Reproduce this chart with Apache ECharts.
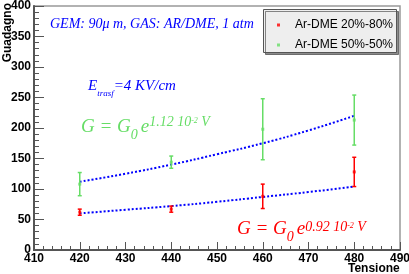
<!DOCTYPE html>
<html><head><meta charset="utf-8">
<script src="https://cdn.jsdelivr.net/npm/echarts@6/dist/echarts.min.js"></script>
<style>html,body{margin:0;padding:0;background:#fff}#c{width:409px;height:274px}</style>
</head><body><div id="c"></div>
<script>
// ---- data ----
var voltages = [420, 440, 460, 480];
var gainRed = [62, 67, 88, 128];
var errRed = [5, 5, 20, 24];
var gainGreen = [108, 144, 198, 213];
var errGreen = [19, 10, 50, 41];
var fitV = [420, 430, 440, 450, 460, 470, 480];
var fitRed = [60, 66, 72, 79, 87, 95, 104];
var fitGreen = [112, 125, 140, 157, 175, 196, 220];
var seriesNames = ['Ar-DME 20%-80%', 'Ar-DME 50%-50%'];
var xTicks = [410, 420, 430, 440, 450, 460, 470, 480, 490];
var yTicks = [0, 50, 100, 150, 200, 250, 300, 350, 400];

var RED = '#ff0000', GREEN = '#66dd66', BLUE = '#0000ff';
var SANS = '"Liberation Sans",Arial,sans-serif';
var chart = echarts.init(document.getElementById('c'), null, {renderer: 'canvas'});

function pts(xs, ys) { return xs.map(function (x, i) { return [x, ys[i]]; }); }
function errs(xs, ys, es) { return xs.map(function (x, i) { return [x, ys[i] - es[i], ys[i] + es[i]]; }); }

function errRender(color) {
  return function (params, api) {
    var x = api.value(0), lo = api.value(1), hi = api.value(2);
    var a = api.coord([x, hi]), b = api.coord([x, lo]);
    var st = {stroke: color, lineWidth: 1.5};
    return {type: 'group', children: [
      {type: 'line', shape: {x1: a[0], y1: a[1], x2: b[0], y2: b[1]}, style: st},
      {type: 'line', shape: {x1: a[0] - 2, y1: a[1], x2: a[0] + 2, y2: a[1]}, style: st},
      {type: 'line', shape: {x1: b[0] - 2, y1: b[1], x2: b[0] + 2, y2: b[1]}, style: st}
    ]};
  };
}

// text measuring for formula layout
var cv = document.createElement('canvas').getContext('2d');
var SERIF = '"Liberation Serif","Times New Roman",serif';
function pieces(list, x0, baseline, color) {
  var out = [], x = x0;
  list.forEach(function (p) {
    var font = 'italic ' + p.s + 'px ' + SERIF;
    cv.font = font;
    var w = cv.measureText(p.t).width;
    out.push({type: 'text', left: x, top: baseline + (p.dy || 0) - p.s * 0.9, z: 10,
      style: {text: p.t, fill: color, font: font}});
    x += w + (p.gap || 0);
  });
  return out;
}

var graphics = [];
// legend box
graphics.push({type: 'rect', left: 263, top: 9, z: 1, shape: {width: 133, height: 43},
  style: {fill: '#eeeeee', stroke: '#555', lineWidth: 1, shadowColor: 'rgba(0,0,0,0.45)', shadowOffsetX: 2, shadowOffsetY: 2, shadowBlur: 0}});
// GEM annotation
graphics = graphics.concat(pieces([{t: 'GEM: 90\u03bc m, GAS: AR/DME, 1 atm', s: 14}], 50, 30, BLUE));
// E_trasf
graphics = graphics.concat(pieces([{t: 'E', s: 15}, {t: 'trasf', s: 9, dy: 5}, {t: '=4 KV/cm', s: 15}], 88, 92, BLUE));
// green formula
graphics = graphics.concat(pieces([{t: 'G = G', s: 19}, {t: '0', s: 14, dy: 6, gap: 3}, {t: 'e', s: 19},
  {t: '1.12 10', s: 14, dy: -7}, {t: '-2', s: 8, dy: -11}, {t: ' V', s: 14, dy: -7}], 81, 135, GREEN));
// red formula
graphics = graphics.concat(pieces([{t: 'G = G', s: 19}, {t: '0', s: 14, dy: 6, gap: 3}, {t: 'e', s: 19},
  {t: '0.92 10', s: 14, dy: -4}, {t: '-2', s: 8, dy: -8}, {t: ' V', s: 14, dy: -4}], 237, 237, RED));
// x axis title
graphics.push({type: 'text', left: 348, top: 263, z: 10,
  style: {text: 'Tensione', fill: '#000', font: 'bold 12px ' + SANS}});
// y axis title (vertical, reading upward)
graphics.push({type: 'text', left: 2, top: 3, rotation: Math.PI / 2, z: 10,
  style: {text: 'Guadagno', fill: '#000', font: 'bold 12px ' + SANS}});

var labelFont = {color: '#000', fontFamily: SANS, fontWeight: 'bold', fontSize: 12};

chart.setOption({
  animation: false,
  grid: {left: 34, right: 9, top: 6, bottom: 24, outerBoundsMode: 'none', containLabel: false,
    show: true, borderColor: '#999', borderWidth: 1.5, backgroundColor: 'transparent'},
  legend: {
    data: seriesNames, orient: 'vertical', left: 272, top: 13, z: 5,
    itemWidth: 3, itemHeight: 3, itemGap: 6, icon: 'rect',
    textStyle: {color: '#000', fontFamily: SANS, fontSize: 12, lineHeight: 14, padding: [0, 0, 0, 10]}
  },
  xAxis: {
    type: 'value', min: xTicks[0], max: xTicks[xTicks.length - 1], interval: 10,
    axisLine: {onZero: false, lineStyle: {color: '#555', width: 2}},
    axisTick: {inside: true, length: 8, lineStyle: {color: '#555', width: 1}},
    minorTick: {show: true, splitNumber: 5, length: 4, lineStyle: {color: '#555', width: 1}},
    splitLine: {show: false},
    axisLabel: Object.assign({margin: 3}, labelFont)
  },
  yAxis: {
    type: 'value', min: yTicks[0], max: yTicks[yTicks.length - 1], interval: 50,
    axisLine: {show: true, lineStyle: {color: '#555', width: 2}},
    axisTick: {show: true, inside: true, length: 10, lineStyle: {color: '#555', width: 1}},
    minorTick: {show: true, splitNumber: 5, length: 5, lineStyle: {color: '#555', width: 1}},
    splitLine: {show: false},
    axisLabel: Object.assign({margin: 3}, labelFont)
  },
  graphic: graphics,
  series: [
    {type: 'line', data: pts(fitV, fitGreen), smooth: true, symbol: 'none', silent: true,
      lineStyle: {color: BLUE, width: 2, type: [2, 2]}, z: 3},
    {type: 'line', data: pts(fitV, fitRed), smooth: true, symbol: 'none', silent: true,
      lineStyle: {color: BLUE, width: 2, type: [2, 2]}, z: 3},
    {type: 'custom', data: errs(voltages, gainRed, errRed), renderItem: errRender(RED), z: 4},
    {type: 'custom', data: errs(voltages, gainGreen, errGreen), renderItem: errRender(GREEN), z: 4},
    {name: seriesNames[0], type: 'scatter', data: pts(voltages, gainRed), symbol: 'rect', symbolSize: 3,
      itemStyle: {color: RED}, z: 5},
    {name: seriesNames[1], type: 'scatter', data: pts(voltages, gainGreen), symbol: 'rect', symbolSize: 3,
      itemStyle: {color: GREEN}, z: 5}
  ]
});
</script></body></html>
